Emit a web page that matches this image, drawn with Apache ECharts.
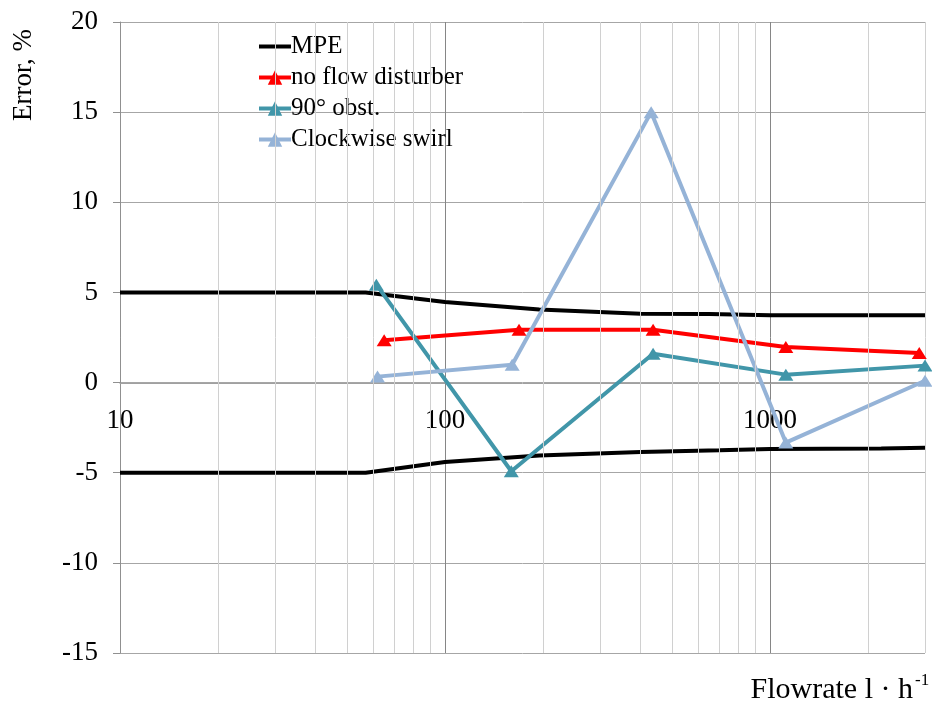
<!DOCTYPE html>
<html><head><meta charset="utf-8">
<script src="https://cdn.jsdelivr.net/npm/echarts@6/dist/echarts.min.js"></script>
<style>html,body{margin:0;padding:0;background:#fff}#c{width:932px;height:707px}</style>
</head><body><div id="c"></div>
<script>
const seriesNames = ['MPE', 'no flow disturber', '90° obst.', 'Clockwise swirl'];
const mpeUpper = [[10, 5], [57, 5], [100, 4.47], [195, 4.05], [400, 3.82], [650, 3.8], [1000, 3.73], [3000, 3.73]];
const mpeLower = [[10, -5], [57, -5], [100, -4.4], [195, -4.05], [400, -3.85], [700, -3.75], [1000, -3.68], [2200, -3.66], [3000, -3.62]];
const noFlowDisturber = [[65, 2.35], [169, 2.93], [437, 2.93], [1119, 1.97], [2880, 1.64]];
const obst90 = [[61.5, 5.43], [160, -4.92], [437, 1.6], [1119, 0.44], [3000, 0.94]];
const clockwiseSwirl = [[62, 0.33], [161, 0.99], [431, 15], [1119, -3.33], [3000, 0.1]];
const xMinorGrid = [20, 30, 40, 50, 60, 70, 80, 90, 200, 300, 400, 500, 600, 700, 800, 900, 2000];
const xMin = 10, xMax = 3000;
const yMin = -15, yMax = 20, yStep = 5;

const FONT = '"Liberation Serif", "Times New Roman", serif';
const GRID = {left: 120, right: 7, top: 22, bottom: 54};
const plotH = 707 - GRID.top - GRID.bottom;
// move the x axis up so that it crosses the y axis at 0
const xAxisOffset = -Math.round(plotH * (0 - yMin) / (yMax - yMin));

const chart = echarts.init(document.getElementById('c'), null, {renderer: 'canvas'});
const lineSeries = (name, data, color, withSymbol) => ({
  type: 'line', name, data, clip: false, z: 3,
  symbol: withSymbol ? 'triangle' : 'none', symbolSize: [15, 12], showSymbol: withSymbol,
  lineStyle: {color, width: 4}, itemStyle: {color},
  emphasis: {disabled: true}
});
chart.setOption({
  animation: false,
  backgroundColor: '#fff',
  grid: Object.assign({containLabel: false}, GRID),
  legend: {
    orient: 'vertical', left: 257, top: 34, padding: 0, itemWidth: 32, itemHeight: 18, itemGap: 6,
    data: [
      {name: 'MPE', itemStyle: {opacity: 0}},
      {name: 'no flow disturber'},
      {name: '90° obst.'},
      {name: 'Clockwise swirl'}
    ],
    lineStyle: {width: 4},
    textStyle: {fontFamily: FONT, fontSize: 25, color: '#000', padding: [0, 0, 0, -5]},
    selectedMode: false
  },
  xAxis: {
    type: 'log', logBase: 10, min: xMin, max: xMax,
    offset: xAxisOffset,
    axisLine: {onZero: false, lineStyle: {color: '#a0a0a0', width: 1}},
    axisTick: {show: false},
    axisLabel: {fontFamily: FONT, fontSize: 27, color: '#000', margin: 24, showMaxLabel: false,
                formatter: v => String(Math.round(v))},
    splitLine: {show: true, lineStyle: {color: ['#868686', '#868686', '#868686', '#d0d0d0'], width: 1}}
  },
  yAxis: {
    type: 'value', min: yMin, max: yMax, interval: yStep,
    axisLine: {show: true, lineStyle: {color: '#909090', width: 1}},
    axisTick: {show: true, inside: false, length: 7, lineStyle: {color: '#909090'}},
    axisLabel: {fontFamily: FONT, fontSize: 27, color: '#000', margin: 22},
    splitLine: {show: true, lineStyle: {color: '#a6a6a6', width: 1}}
  },
  series: [
    {
      type: 'line', name: 'minor-grid', data: [], z: 1, silent: true,
      markLine: {
        silent: true, symbol: ['none', 'none'], label: {show: false},
        lineStyle: {color: '#d0d0d0', width: 1, type: 'solid'},
        emphasis: {disabled: true},
        data: xMinorGrid.map(v => ({xAxis: v}))
      }
    },
    lineSeries('MPE', mpeUpper, '#000', false),
    lineSeries('MPE', mpeLower, '#000', false),
    lineSeries('no flow disturber', noFlowDisturber, '#ff0000', true),
    lineSeries('90° obst.', obst90, '#4196a9', true),
    lineSeries('Clockwise swirl', clockwiseSwirl, '#95b3d7', true)
  ],
  graphic: [
    {type: 'text', x: 24, y: 75, rotation: Math.PI / 2,
     style: {text: 'Error, %', font: '27px ' + FONT, fill: '#000', align: 'center', verticalAlign: 'middle', textAlign: 'center', textVerticalAlign: 'middle'}},
    {type: 'text', x: 913, y: 690,
     style: {text: 'Flowrate l · h', font: '30px ' + FONT, fill: '#000', align: 'right', verticalAlign: 'middle', textAlign: 'right', textVerticalAlign: 'middle'}},
    {type: 'text', x: 915, y: 681,
     style: {text: '-1', font: '17px ' + FONT, fill: '#000', align: 'left', verticalAlign: 'middle', textAlign: 'left', textVerticalAlign: 'middle'}}
  ]
});
</script></body></html>
